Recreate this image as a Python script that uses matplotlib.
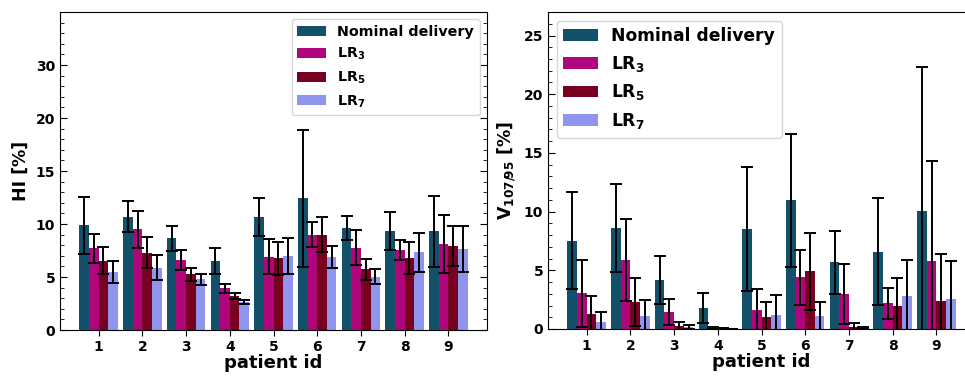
import numpy as np
import matplotlib
matplotlib.use("Agg")
import matplotlib.pyplot as plt
from matplotlib.ticker import MultipleLocator

# patients and plan labels
patients = [1, 2, 3, 4, 5, 6, 7, 8, 9]
labels = ['Nominal delivery', r'$\mathbf{LR_3}$', r'$\mathbf{LR_5}$', r'$\mathbf{LR_7}$']
colors = ['#13506a', '#b0067c', '#780020', '#8f94ec']

# HI [%] (mean and std per patient)
hi_nominal = [9.87, 10.69, 8.65, 6.5, 10.7, 12.42, 9.65, 9.34, 9.34]
hi_lr3 = [7.7, 9.5, 6.6, 3.93, 6.92, 9.0, 7.77, 7.52, 8.11]
hi_lr5 = [6.54, 7.3, 5.25, 3.2, 6.76, 9.0, 5.72, 6.76, 7.92]
hi_lr7 = [5.47, 5.88, 4.78, 2.64, 7.0, 6.92, 5.03, 7.33, 7.64]
hi_nominal_err = [2.7, 1.46, 1.18, 1.26, 1.8, 6.48, 1.13, 1.8, 3.35]
hi_lr3_err = [1.4, 1.76, 0.95, 0.41, 1.67, 1.18, 1.67, 0.95, 2.75]
hi_lr5_err = [1.3, 1.47, 0.58, 0.27, 1.55, 1.62, 0.96, 1.52, 1.87]
hi_lr7_err = [1.05, 1.2, 0.5, 0.17, 1.7, 1.05, 0.7, 1.87, 2.17]

# V107/95 [%]
v_nominal = [7.52, 8.6, 4.2, 1.82, 8.51, 10.95, 5.68, 6.58, 10.02]
v_lr3 = [3.06, 5.85, 1.48, 0.08, 1.59, 4.4, 3.0, 2.18, 5.82]
v_lr5 = [1.31, 2.27, 0.28, 0.02, 0.99, 4.91, 0.17, 1.93, 2.41]
v_lr7 = [0.57, 1.1, 0.17, 0.01, 1.22, 1.1, 0.11, 2.78, 2.53]
v_nominal_err = [4.14, 3.73, 2.03, 1.27, 5.25, 5.7, 2.67, 4.56, 12.3]
v_lr3_err = [2.85, 3.5, 1.1, 0.05, 1.79, 2.35, 2.57, 1.29, 8.5]
v_lr5_err = [1.5, 2.04, 0.34, 0.03, 1.28, 3.28, 0.33, 2.38, 3.97]
v_lr7_err = [0.88, 1.37, 0.2, 0.02, 1.67, 1.22, 0.1, 3.07, 3.3]

width = 0.22
offsets = [-1.5, -0.5, 0.5, 1.5]
x = np.array(patients)

fig = plt.figure(figsize=(9.65, 3.76), dpi=100)
ax1 = fig.add_axes([0.0622, 0.1223, 0.4425, 0.8457])
ax2 = fig.add_axes([0.5679, 0.1250, 0.4425, 0.8430])


def draw(ax, series, errors, ylim, legend_loc, legend_size):
    for vals, errs, off, col, lab in zip(series, errors, offsets, colors, labels):
        ax.bar(x + off * width, vals, width, color=col, label=lab)
        ax.errorbar(x + off * width, vals, yerr=errs, fmt='none', ecolor='black',
                    elinewidth=1.4, capsize=4, capthick=1.4)
    ax.set_ylim(*ylim)
    ax.set_xticks(patients)
    ax.yaxis.set_minor_locator(MultipleLocator(1))
    ax.tick_params(axis='y', which='both', direction='in', right=True)
    ax.tick_params(axis='y', which='major', length=5)
    ax.tick_params(axis='y', which='minor', length=3)
    ax.tick_params(axis='x', direction='out', length=4)
    ax.tick_params(labelsize=10)
    for t in ax.get_xticklabels() + ax.get_yticklabels():
        t.set_fontweight('bold')
    ax.set_xlabel('patient id', fontsize=13, fontweight='bold', labelpad=0)
    ax.legend(loc=legend_loc, prop={'weight': 'bold', 'size': legend_size})


draw(ax1, [hi_nominal, hi_lr3, hi_lr5, hi_lr7],
     [hi_nominal_err, hi_lr3_err, hi_lr5_err, hi_lr7_err], (0, 30), 'upper right', 10.3)
ax1.set_yticks([0, 5, 10, 15, 20, 25])
ax1.set_yticklabels(['0', '5', '10', '15', '20', '30'], fontweight='bold')
ax1.set_ylabel('HI [%]', fontsize=12.5, fontweight='bold')

draw(ax2, [v_nominal, v_lr3, v_lr5, v_lr7],
     [v_nominal_err, v_lr3_err, v_lr5_err, v_lr7_err], (0, 27), 'upper left', 12.3)
ax2.set_yticks([0, 5, 10, 15, 20, 25])
ax2.set_ylabel(r'$\mathbf{V_{107/95}}$ [%]', fontsize=12.5, fontweight='bold')

fig.savefig('out.png', dpi=100)
